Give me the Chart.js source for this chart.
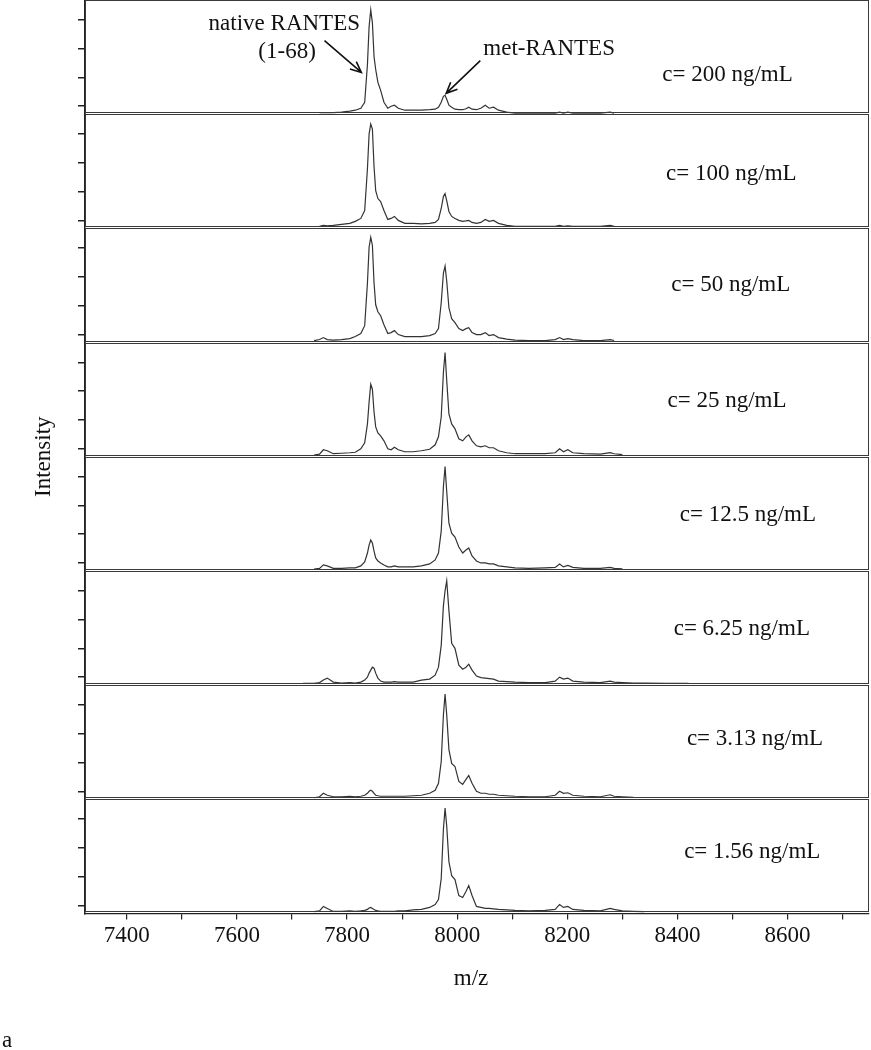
<!DOCTYPE html>
<html>
<head>
<meta charset="utf-8">
<script src="https://cdn.jsdelivr.net/npm/chart.js@4.4.0/dist/chart.umd.min.js"></script>
<style>
  body { margin: 0; background: #fff; }
  #wrap { position: relative; width: 871px; height: 1050px; }
</style>
</head>
<body>
<div id="wrap"><canvas id="ms"></canvas></div>
<script>
// shared m/z grid for all eight spectra
var mz = [7720, 7740, 7750, 7757, 7764, 7775, 7790, 7805, 7815, 7825,
          7832, 7837, 7840, 7843, 7846, 7849, 7852, 7856, 7861, 7867,
          7874, 7880, 7886, 7893, 7905, 7920, 7935, 7950, 7960, 7966,
          7971, 7975, 7978, 7981, 7985, 7990, 7996, 8003, 8010, 8016,
          8021, 8027, 8035, 8043, 8051, 8058, 8066, 8075, 8090, 8105,
          8130, 8160, 8178, 8186, 8193, 8201, 8210, 8230, 8260, 8278,
          8285, 8300, 8320, 8340, 8380, 8420];

// intensities (arb. units), top panel to bottom panel
var c200 = [null, null, 1.5, 1.5, 1.5, 1.5, 2, 3, 4, 6,
            12, 50, 88, 105, 92, 58, 45, 32, 24, 12,
            6, 8, 9, 6, 4, 4, 4, 4.5, 5, 7,
            12, 18, 19, 15, 9, 7, 5, 4.5, 4.5, 5.5,
            7, 5, 4.5, 6, 9, 6, 7, 4, 2, 1,
            1, 1, 1, 2, 1, 2, 1, 1, 1, 2,
            1, null, null, null, null, null];
var c100 = [null, null, 2, 3, 2.5, 3, 4, 5, 7, 10,
            18, 60, 95, 105, 100, 62, 38, 30, 27, 18,
            9, 10, 12, 8, 5, 5, 4.5, 5, 6, 9,
            20, 32, 35, 28, 17, 12, 10, 8, 7, 7.5,
            8, 6, 5, 6, 9, 7, 8, 5, 3, 2,
            2, 2, 2, 3, 2, 2.5, 2, 2, 2, 3,
            2, null, null, null, null, null];
var c50 = [null, 2, 3, 5, 3, 2.5, 3, 4, 6, 9,
           17, 60, 96, 106, 98, 60, 38, 31, 27, 18,
           9, 10, 12, 8, 6, 6, 6, 7, 9, 14,
           40, 70, 77, 62, 35, 24, 20, 14, 12, 14,
           15, 10, 8, 8, 10, 7, 8, 5, 3.5, 2.5,
           2, 2, 3, 5, 3, 4, 3, 2, 2, 3,
           2, null, null, null, null, null];
var c25 = [null, 1.7, 2.5, 7, 6, 3, 3.5, 4, 4.5, 8,
           14, 33, 55, 73, 68, 45, 30, 24, 21, 16,
           8, 7, 9.5, 7, 5, 5, 6, 7.5, 12, 20,
           40, 85, 105, 77, 43, 33, 28, 18, 16, 20,
           22, 16, 11, 10, 11, 9, 9, 6, 4, 3,
           3, 3, 4, 8, 5, 7, 4, 3, 2.5, 4,
           3, 2, null, null, null, null];
var c12 = [null, 1.7, 2.5, 6, 5, 2.5, 2.5, 3, 3, 5,
           9, 18, 26, 31, 28, 20, 13, 10, 8, 6,
           4, 4, 5, 4, 4, 4, 5, 7, 11, 18,
           40, 85, 105, 80, 48, 38, 34, 24, 18, 21,
           23, 15, 10, 8, 8, 7, 7, 5, 4, 3,
           2.5, 3, 3.5, 7, 4, 5.5, 3.5, 2.5, 2.5, 3.5,
           2.5, 2, null, null, null, null];
var c6 = [1.7, 1.7, 2.5, 5, 7, 3, 2, 2.5, 2, 3,
          5, 8, 12, 15, 18, 17, 12, 7, 4, 3,
          3, 3, 3.5, 3, 3, 3, 5, 6, 10, 18,
          40, 80, 95, 105, 75, 42, 37, 20, 16, 18,
          21, 15, 9, 7.5, 7, 6.5, 6, 4, 3.5, 3,
          2.5, 2.5, 4, 8, 6, 7, 4, 3, 2.5, 4,
          3, 2.5, 2, 2, 1.7, 1.7];
var c3 = [null, 1.5, 2.5, 6, 4, 2.5, 2.5, 3, 2.5, 3,
          4, 6, 8, 9, 8, 6, 4, 3.5, 3, 3,
          3, 3, 3, 3, 3, 3.5, 4, 6, 9, 16,
          38, 85, 106, 85, 50, 36, 33, 18, 15, 20,
          24, 16, 8, 6, 6, 5, 5, 4, 3.5, 3,
          2.5, 2.5, 4, 8, 6, 6.5, 4, 3, 2.5, 4.5,
          3, 2.5, 2, null, null, null];
var c1 = [null, 1.7, 2.5, 7, 5, 2, 2, 2.5, 2, 2.5,
          3, 4, 5.5, 6, 5, 4, 3, 2.5, 2, 2,
          2, 2, 2, 2.5, 2.5, 3.5, 4, 6, 9, 14,
          35, 85, 106, 88, 52, 38, 34, 18, 16, 22,
          28, 18, 7, 6, 5, 5, 4.5, 4, 3.5, 3,
          2.5, 3, 4, 9, 6, 7, 4, 3, 2.5, 5,
          4, 2.5, 2, 1.7, null, null];

var spectra = [c200, c100, c50, c25, c12, c6, c3, c1];
var concLabels = ['c= 200 ng/mL', 'c= 100 ng/mL', 'c= 50 ng/mL', 'c= 25 ng/mL',
                  'c= 12.5 ng/mL', 'c= 6.25 ng/mL', 'c= 3.13 ng/mL', 'c= 1.56 ng/mL'];
var xTicks = [7400, 7500, 7600, 7700, 7800, 7900, 8000, 8100, 8200, 8300, 8400, 8500, 8600, 8700];
var yTicks = [8, 37, 66, 95];

var serif = '"Liberation Serif", "Times New Roman", serif';
var ink = '#222';

var datasets = spectra.map(function(vals, i) {
  return {
    label: concLabels[i],
    yAxisID: 'y' + i,
    data: mz.map(function(m, k) { return {x: m, y: vals[k]}; })
            .filter(function(p) { return p.y !== null; }),
    borderColor: '#333',
    borderWidth: 1.2,
    pointRadius: 0,
    tension: 0,
    fill: false
  };
});

var scales = {
  x: {
    type: 'linear',
    position: 'bottom',
    min: 7324,
    max: 8748,
    afterBuildTicks: function(s) { s.ticks = xTicks.map(function(v) { return {value: v}; }); },
    ticks: {
      autoSkip: false,
      maxRotation: 0,
      padding: 3,
      color: '#111',
      font: {family: serif, size: 23},
      callback: function(v) { return v % 200 === 0 ? String(v) : ''; }
    },
    grid: {drawOnChartArea: false, tickLength: 6, color: ink, lineWidth: 1.2},
    border: {color: ink, width: 1.2}
  }
};
spectra.forEach(function(vals, i) {
  scales['y' + i] = {
    type: 'linear',
    position: 'left',
    stack: 'panels',
    stackWeight: 1,
    weight: 8 - i,
    min: 0,
    max: 115,
    afterBuildTicks: function(s) { s.ticks = yTicks.map(function(v) { return {value: v}; }); },
    ticks: {display: false},
    grid: {drawOnChartArea: false, tickLength: 7, color: ink, lineWidth: 1.5},
    border: {color: ink, width: 1.5}
  };
});

// where the concentration labels sit (m/z, intensity) in each panel
var concAt = [[8491, 40], [8498, 55], [8497, 58], [8490, 56],
              [8528, 56], [8517, 56], [8541, 61], [8536, 62]];

function arrow(ctx, x1, y1, x2, y2) {
  var a = Math.atan2(y2 - y1, x2 - x1), h = 12, w = 0.42;
  ctx.beginPath();
  ctx.moveTo(x1, y1);
  ctx.lineTo(x2, y2);
  ctx.moveTo(x2 - h * Math.cos(a - w), y2 - h * Math.sin(a - w));
  ctx.lineTo(x2, y2);
  ctx.lineTo(x2 - h * Math.cos(a + w), y2 - h * Math.sin(a + w));
  ctx.stroke();
}

var decor = {
  id: 'decor',
  afterDraw: function(chart) {
    var ctx = chart.ctx, area = chart.chartArea, xs = chart.scales.x;
    ctx.save();
    // panel frames (gives the double line between panels)
    ctx.strokeStyle = '#3a3a3a';
    ctx.lineWidth = 1;
    spectra.forEach(function(v, i) {
      var s = chart.scales['y' + i];
      var top = Math.max(Math.round(s.top) + 0.5, 0.5);
      var bot = Math.round(s.bottom) - 1.5;
      ctx.strokeRect(area.left + 0.5, top, area.right - area.left - 1, bot - top);
    });

    ctx.fillStyle = '#111';
    ctx.font = '23px ' + serif;
    ctx.textAlign = 'center';
    ctx.textBaseline = 'middle';
    concLabels.forEach(function(t, i) {
      var s = chart.scales['y' + i];
      ctx.fillText(t, xs.getPixelForValue(concAt[i][0]), s.getPixelForValue(concAt[i][1]));
    });

    // peak annotations in the top panel
    var y0 = chart.scales.y0;
    ctx.textBaseline = 'alphabetic';
    ctx.fillText('native RANTES', xs.getPixelForValue(7686), y0.getPixelForValue(85));
    ctx.fillText('(1-68)', xs.getPixelForValue(7691), y0.getPixelForValue(57));
    ctx.fillText('met-RANTES', xs.getPixelForValue(8167), y0.getPixelForValue(60));
    ctx.strokeStyle = '#111';
    ctx.lineWidth = 1.6;
    arrow(ctx, xs.getPixelForValue(7759), y0.getPixelForValue(74),
               xs.getPixelForValue(7826), y0.getPixelForValue(42));
    arrow(ctx, xs.getPixelForValue(8042), y0.getPixelForValue(54),
               xs.getPixelForValue(7980), y0.getPixelForValue(21));

    // axis titles and panel letter
    ctx.textBaseline = 'middle';
    ctx.fillText('m/z', (area.left + area.right) / 2 - 6, 979);
    ctx.save();
    ctx.translate(44, (area.top + area.bottom) / 2);
    ctx.rotate(-Math.PI / 2);
    ctx.fillText('Intensity', 0, 0);
    ctx.restore();
    ctx.textAlign = 'left';
    ctx.textBaseline = 'alphabetic';
    ctx.fillText('a', 2, 1047);
    ctx.restore();
  }
};

new Chart('ms', {
  type: 'line',
  data: {datasets: datasets},
  options: {
    responsive: true,
    maintainAspectRatio: false,
    animation: false,
    layout: {padding: {left: 78, right: 2, top: -2, bottom: 97}},
    plugins: {legend: {display: false}, tooltip: {enabled: false}},
    scales: scales
  },
  plugins: [decor]
});
</script>
</body>
</html>
